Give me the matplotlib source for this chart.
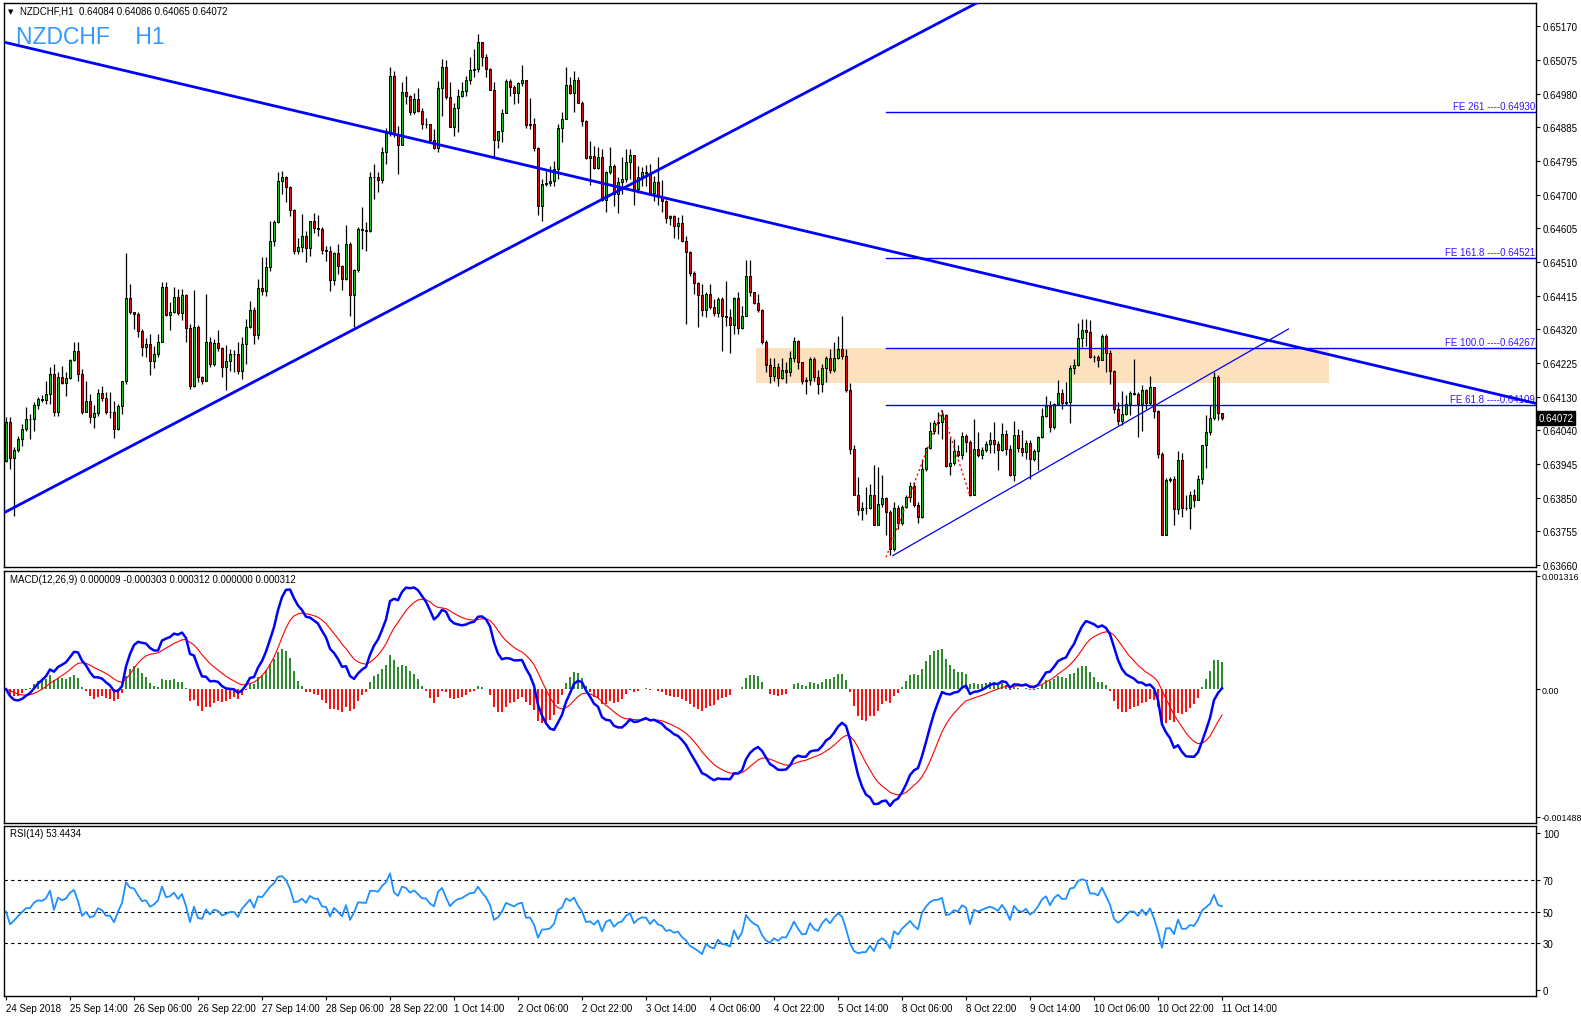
import matplotlib
matplotlib.use("Agg")
import matplotlib.pyplot as plt
import matplotlib.transforms as mtransforms
import numpy as np
from matplotlib.patches import Rectangle

plt.rcParams['font.family'] = ['Liberation Sans', 'DejaVu Sans']

# NZDCHF H1 bars, prices in points (1e-5); open of each bar = previous close
FIRST_OPEN_PTS = 63952
CLOSE_PTS = [
    64060, 63959, 63983, 64013, 64041, 64069, 64069, 64108, 64125, 64122, 64139, 64195, 64089, 64186, 64169, 64183, 64234, 64259, 64195, 64089,
    64118, 64075, 64085, 64141, 64127, 64088, 64088, 64041, 64106, 64174, 64407, 64368, 64362, 64315, 64270, 64279, 64231, 64251, 64286, 64438,
    64360, 64370, 64410, 64365, 64417, 64323, 64160, 64326, 64186, 64176, 64286, 64223, 64282, 64267, 64216, 64231, 64251, 64251, 64203, 64279,
    64326, 64375, 64305, 64435, 64427, 64494, 64567, 64620, 64735, 64746, 64718, 64655, 64541, 64550, 64581, 64547, 64625, 64603, 64602, 64544,
    64539, 64459, 64533, 64499, 64461, 64559, 64416, 64487, 64601, 64598, 64596, 64746, 64746, 64739, 64816, 64870, 65029, 64868, 64837, 64986,
    64973, 64930, 64966, 64933, 64896, 64895, 64851, 64828, 64996, 65055, 64972, 64888, 64942, 64975, 64987, 65019, 65047, 65050, 65125, 65084,
    65050, 64992, 64852, 64875, 64928, 65015, 64999, 64984, 65010, 65019, 64894, 64896, 64828, 64665, 64728, 64730, 64737, 64771, 64886, 64910,
    65005, 64984, 65020, 64956, 64905, 64800, 64805, 64772, 64804, 64684, 64760, 64777, 64700, 64732, 64743, 64788, 64809, 64715, 64746, 64760,
    64758, 64702, 64732, 64690, 64679, 64631, 64637, 64611, 64617, 64569, 64536, 64477, 64450, 64417, 64374, 64419, 64382, 64366, 64405, 64359,
    64354, 64333, 64407, 64323, 64359, 64469, 64424, 64394, 64375, 64284, 64220, 64190, 64215, 64185, 64205, 64200, 64240, 64288, 64230, 64174,
    64177, 64238, 64186, 64168, 64212, 64240, 64205, 64240, 64266, 64245, 64149, 63985, 63857, 63813, 63819, 63820, 63855, 63771, 63830, 63848,
    63808, 63705, 63820, 63778, 63822, 63850, 63881, 63829, 63794, 63929, 63987, 64035, 64058, 64060, 64079, 63937, 63946, 63980, 63969, 64021,
    64004, 63857, 63985, 63967, 63983, 64000, 64011, 64000, 63981, 64027, 63985, 63913, 64025, 63987, 63976, 64001, 63956, 63978, 64018, 64077,
    64105, 64046, 64110, 64141, 64114, 64116, 64212, 64221, 64296, 64319, 64312, 64242, 64244, 64233, 64301, 64255, 64203, 64096, 64063, 64082,
    64112, 64141, 64138, 64110, 64151, 64114, 64158, 64090, 63971, 63744, 63899, 63901, 63817, 63953, 63819, 63820, 63856, 63843, 63901, 63995,
    64032, 64071, 64186, 64086, 64072,
]
HIGH_PTS = [
    64074, 64074, 63990, 64022, 64055, 64102, 64083, 64116, 64130, 64136, 64176, 64214, 64223, 64200, 64218, 64200, 64237, 64286, 64284, 64209,
    64176, 64139, 64108, 64153, 64162, 64144, 64144, 64120, 64111, 64176, 64533, 64446, 64370, 64368, 64321, 64295, 64307, 64274, 64307, 64452,
    64452, 64396, 64438, 64433, 64433, 64419, 64335, 64431, 64333, 64190, 64419, 64298, 64293, 64318, 64270, 64276, 64265, 64263, 64284, 64298,
    64349, 64399, 64382, 64461, 64522, 64524, 64625, 64627, 64762, 64764, 64751, 64723, 64658, 64576, 64643, 64597, 64625, 64646, 64641, 64606,
    64555, 64555, 64536, 64559, 64501, 64613, 64566, 64489, 64606, 64662, 64620, 64760, 64784, 64760, 64830, 64884, 65055, 65043, 64891, 65014,
    65029, 64977, 64982, 64996, 64940, 64914, 64896, 64882, 65017, 65078, 65075, 65013, 64956, 64994, 65013, 65031, 65083, 65106, 65148, 65127,
    65092, 65052, 65013, 64877, 64938, 65022, 65022, 65005, 65014, 65061, 65020, 64970, 64912, 64830, 64742, 64765, 64779, 64793, 64896, 64930,
    65055, 65027, 65045, 65027, 64961, 64908, 64847, 64835, 64830, 64826, 64765, 64830, 64784, 64746, 64802, 64826, 64826, 64809, 64779, 64774,
    64781, 64784, 64749, 64802, 64740, 64684, 64641, 64641, 64634, 64641, 64583, 64541, 64485, 64452, 64447, 64424, 64447, 64405, 64410, 64410,
    64455, 64377, 64410, 64424, 64387, 64515, 64515, 64419, 64419, 64377, 64290, 64240, 64240, 64225, 64240, 64230, 64260, 64300, 64290, 64214,
    64186, 64242, 64242, 64205, 64224, 64245, 64266, 64286, 64301, 64359, 64266, 64170, 63995, 63906, 63836, 63878, 63887, 63939, 63934, 63913,
    63850, 63813, 63836, 63827, 63827, 63855, 63892, 63892, 63836, 63957, 63990, 64060, 64065, 64088, 64093, 64084, 64015, 64013, 63995, 64032,
    64027, 64009, 64069, 64032, 63990, 64006, 64032, 64060, 64006, 64058, 64037, 63995, 64062, 64041, 64037, 64009, 64009, 63985, 64021, 64099,
    64133, 64118, 64114, 64177, 64154, 64172, 64219, 64238, 64339, 64350, 64348, 64345, 64249, 64249, 64308, 64308, 64261, 64205, 64116, 64146,
    64135, 64146, 64238, 64144, 64165, 64152, 64189, 64158, 64093, 63976, 63903, 63906, 63908, 63978, 63974, 63857, 63866, 63873, 63913, 63997,
    64079, 64107, 64200, 64193, 64086,
]
LOW_PTS = [
    63947, 63929, 63798, 63976, 63994, 64036, 64013, 64036, 64097, 64116, 64111, 64111, 64078, 64076, 64167, 64132, 64181, 64232, 64174, 64083,
    64088, 64057, 64043, 64078, 64120, 64083, 64073, 64015, 64039, 64083, 64167, 64363, 64321, 64300, 64246, 64242, 64192, 64211, 64242, 64284,
    64357, 64318, 64365, 64360, 64346, 64284, 64153, 64158, 64172, 64167, 64186, 64214, 64218, 64260, 64186, 64151, 64204, 64200, 64195, 64181,
    64223, 64323, 64279, 64293, 64416, 64415, 64485, 64553, 64618, 64700, 64678, 64639, 64531, 64531, 64536, 64508, 64525, 64590, 64583, 64531,
    64513, 64427, 64444, 64475, 64431, 64459, 64358, 64326, 64482, 64545, 64541, 64592, 64686, 64704, 64730, 64784, 64863, 64858, 64756, 64852,
    64952, 64921, 64924, 64930, 64882, 64886, 64846, 64826, 64818, 64917, 64966, 64888, 64861, 64874, 64972, 64975, 65008, 65027, 65042, 65059,
    65027, 64992, 64802, 64828, 64844, 64927, 64975, 64952, 64956, 65003, 64885, 64882, 64821, 64641, 64625, 64723, 64721, 64721, 64742, 64846,
    64910, 64980, 64930, 64955, 64891, 64798, 64725, 64770, 64771, 64681, 64650, 64756, 64667, 64645, 64700, 64732, 64743, 64669, 64702, 64723,
    64723, 64700, 64681, 64669, 64648, 64617, 64613, 64575, 64573, 64564, 64335, 64471, 64419, 64326, 64358, 64354, 64377, 64357, 64354, 64260,
    64330, 64254, 64307, 64307, 64321, 64357, 64415, 64390, 64368, 64279, 64200, 64170, 64175, 64160, 64180, 64170, 64190, 64230, 64210, 64168,
    64140, 64163, 64174, 64138, 64144, 64172, 64198, 64200, 64238, 64238, 64144, 63971, 63855, 63801, 63785, 63803, 63817, 63771, 63808, 63822,
    63744, 63688, 63700, 63761, 63771, 63819, 63836, 63822, 63778, 63791, 63922, 63985, 64027, 64027, 64012, 63934, 63913, 63941, 63962, 63956,
    63976, 63853, 63866, 63962, 63957, 63976, 63974, 63974, 63927, 63978, 63967, 63909, 63895, 63976, 63965, 63957, 63901, 63950, 63927, 64015,
    64074, 64032, 64041, 64107, 64096, 64109, 64058, 64196, 64217, 64270, 64273, 64240, 64228, 64214, 64238, 64200, 64168, 64086, 64051, 64051,
    64079, 64079, 64135, 64018, 64034, 64098, 64107, 64071, 63959, 63743, 63766, 63892, 63772, 63803, 63794, 63815, 63761, 63822, 63841, 63887,
    63931, 64023, 64065, 64065, 64065,
]

TIME_LABELS = ["24 Sep 2018", "25 Sep 14:00", "26 Sep 06:00", "26 Sep 22:00", "27 Sep 14:00",
               "28 Sep 06:00", "28 Sep 22:00", "1 Oct 14:00", "2 Oct 06:00", "2 Oct 22:00",
               "3 Oct 14:00", "4 Oct 06:00", "4 Oct 22:00", "5 Oct 14:00", "8 Oct 06:00",
               "8 Oct 22:00", "9 Oct 14:00", "10 Oct 06:00", "10 Oct 22:00", "11 Oct 14:00"]
BARS_PER_LABEL = 16
PRICE_LABELS = ["0.63660", "0.63755", "0.63850", "0.63945", "0.64040", "0.64130", "0.64225",
                "0.64320", "0.64415", "0.64510", "0.64605", "0.64700", "0.64795", "0.64885",
                "0.64980", "0.65075", "0.65170"]

# drawn objects
FE_NAMES = ["FE 261", "FE 161.8", "FE 100.0", "FE 61.8"]
FE_LEVELS = [0.64930, 0.64521, 0.64267, 0.64109]
FE_POINTS = [(220, 0.63681), (234, 0.64093), (241, 0.63854)]
ZONE_BARS = (187.5, 330.75)
ZONE_PRICES = (0.64170, 0.64267)
DOWN_LINE = [(0, 0.65124), (382, 0.64114)]
UP_LINE = [(0, 0.63809), (250, 0.65278)]
THIN_LINE = [(221.7, 0.63686), (320.6, 0.64321)]

HEADER = "NZDCHF,H1  0.64084 0.64086 0.64065 0.64072"
MACD_TEXT = "MACD(12,26,9) 0.000009 -0.000303 0.000312 0.000000 0.000312"
RSI_TEXT = "RSI(14) 53.4434"

close = np.array(CLOSE_PTS) / 1e5
high = np.array(HIGH_PTS) / 1e5
low = np.array(LOW_PTS) / 1e5
opn = np.r_[FIRST_OPEN_PTS / 1e5, close[:-1]]
n = len(close)
x = np.arange(n)


def ema(v, period):
    a = 2.0 / (period + 1)
    out = np.empty_like(v)
    out[0] = v[0]
    for i in range(1, len(v)):
        out[i] = a * v[i] + (1 - a) * out[i - 1]
    return out


def rsi(v, period=14):
    # Wilder smoothing; no history before the first bar, so start both averages equal
    d = np.diff(v)
    g = np.clip(d, 0, None)
    l = np.clip(-d, 0, None)
    ag = al = np.abs(d[:period]).mean() / 2
    out = np.full(len(v), 50.0)
    for i in range(1, len(v)):
        ag = (ag * (period - 1) + g[i - 1]) / period
        al = (al * (period - 1) + l[i - 1]) / period
        out[i] = 100 - 100 / (1 + ag / al)
    return out


macd = ema(close, 12) - ema(close, 26)
signal = ema(macd, 9)
hist = macd - signal
rsi14 = rsi(close)

W, H = 1581, 1020
fig = plt.figure(figsize=(W / 100, H / 100), dpi=100)
fig.patch.set_facecolor("white")


def panel(top, bottom):
    return fig.add_axes([4 / W, 1 - bottom / H, (1536 - 4) / W, (bottom - top) / H])


ax = panel(4, 568)
axm = panel(572, 824)
axr = panel(827, 997)
for a in (ax, axm, axr):
    a.set_xlim(-0.5, 382.5)
    for s in a.spines.values():
        s.set_color("black")
        s.set_linewidth(1.0)
    a.yaxis.tick_right()
    a.tick_params(axis="y", length=3, width=0.8, pad=2, labelsize=7, colors="black")
    a.tick_params(axis="x", bottom=False, labelbottom=False)

# ---- price panel
ax.set_ylim(0.63654, 0.65235)
ax.set_yticks(np.linspace(0.63660, 0.65170, len(PRICE_LABELS)))
ax.set_yticklabels(PRICE_LABELS)

ax.add_patch(Rectangle((ZONE_BARS[0], ZONE_PRICES[0]), ZONE_BARS[1] - ZONE_BARS[0],
                       ZONE_PRICES[1] - ZONE_PRICES[0], facecolor="#fde0bd",
                       edgecolor="none", zorder=0))

up = close >= opn
col = np.where(up, "#22b822", "#d01010")
ax.vlines(x, low, high, color="black", linewidth=0.9, zorder=2)
body_lo = np.minimum(opn, close)
body_h = np.maximum(np.abs(close - opn), 0.000012)
ax.bar(x, body_h, bottom=body_lo, width=0.62, color=col, edgecolor="black",
       linewidth=0.7, zorder=3)

x_right = 382.5
for name, lvl in zip(FE_NAMES, FE_LEVELS):
    ax.plot([FE_POINTS[0][0], x_right], [lvl, lvl], color="#0000ff", linewidth=1.0, zorder=4)
    ax.text(x_right - 0.3, lvl + 0.00003, f"{name} ----{lvl:.5f}", color="#3c14ff",
            fontsize=7, ha="right", va="bottom", zorder=5)

fx, fy = zip(*FE_POINTS)
ax.plot(fx, fy, color="#ff0000", linewidth=1.0, linestyle=(0, (1.5, 2)), zorder=4)


def ray(pts, x0, x1):
    (xa, ya), (xb, yb) = pts
    k = (yb - ya) / (xb - xa)
    return [x0, x1], [ya + k * (x0 - xa), ya + k * (x1 - xa)]


ax.plot(*ray(DOWN_LINE, -0.5, x_right), color="#0000ff", linewidth=2.0, zorder=5,
        solid_capstyle="butt")
ax.plot(*ray(UP_LINE, -0.5, 300), color="#0000ff", linewidth=2.0, zorder=5,
        solid_capstyle="butt")
tx, ty = zip(*THIN_LINE)
ax.plot(tx, ty, color="#0000ff", linewidth=0.9, zorder=5)

trans = mtransforms.blended_transform_factory(ax.transAxes, ax.transData)
ax.text(1.0015, close[-1], f"{close[-1]:.5f}", transform=trans, color="white",
        fontsize=7, va="center", ha="left",
        bbox=dict(facecolor="black", edgecolor="black", pad=1.2), zorder=6, clip_on=False)

fig.text(16 / W, 1 - 38 / H, "NZDCHF    H1", fontsize=16.5, color="#3399ff", va="center")
fig.text(8 / W, 1 - 12 / H, "\u25bc", fontsize=5, va="center", family="DejaVu Sans")
fig.text(20 / W, 1 - 12 / H, HEADER, fontsize=7, va="center")

# ---- MACD panel
axm.set_ylim(-0.001558, 0.001374)
axm.set_yticks([-0.001488, 0.0, 0.001316])
axm.set_yticklabels(["-0.001488", "0.00", "0.001316"])
axm.tick_params(axis="y", labelsize=6.4, pad=1)
hcol = np.where(hist >= 0, "#2e8b2e", "#ff1010")
axm.bar(x, hist, width=0.5, color=hcol, linewidth=0, zorder=2)
axm.plot(x, signal, color="#ff0000", linewidth=0.8, zorder=3)
axm.plot(x, macd, color="#0000ff", linewidth=1.8, zorder=4)
fig.text(10 / W, 1 - 580 / H, MACD_TEXT, fontsize=7, va="center")

# ---- RSI panel
axr.set_ylim(-3.8, 104.5)
axr.set_yticks([0, 30, 50, 70, 100])
axr.set_yticklabels(["0", "30", "50", "70", "100"])
for lvl in (30, 50, 70):
    axr.axhline(lvl, color="black", linewidth=0.8, linestyle=(0, (3, 3)), zorder=1)
axr.plot(x, rsi14, color="#1e90ff", linewidth=1.3, zorder=3)
fig.text(10 / W, 1 - 834 / H, RSI_TEXT, fontsize=7, va="center")

axr.tick_params(axis="x", bottom=True, labelbottom=True, length=3, width=0.8,
                pad=2, labelsize=7)
axr.set_xticks(np.arange(len(TIME_LABELS)) * BARS_PER_LABEL)
axr.set_xticklabels(TIME_LABELS, ha="left")

fig.savefig("out.png", dpi=100)
